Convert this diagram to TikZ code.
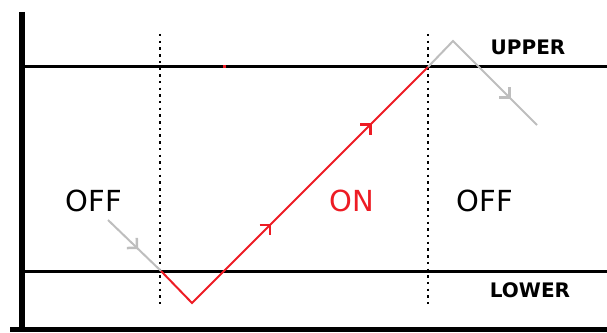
\documentclass[tikz,border=0pt]{standalone}
\usepackage{fontspec}
\setmainfont{DejaVu Sans}
\usepackage{tikz}
\usetikzlibrary{arrows.meta,decorations.markings}
\definecolor{onred}{RGB}{237,28,36}
\definecolor{offgray}{RGB}{190,190,190}

\begin{document}
\begin{tikzpicture}[x=1pt, y=1pt,
    level/.style={line width=3pt},
    axis/.style={line width=6pt},
    divider/.style={line width=2.5pt, dash pattern=on 2.5pt off 4.2pt},
    midtip/.style={postaction={decorate}, decoration={markings,
        mark=at position #1 with {\arrow[line width=2.5pt]{Straight Barb[angle=90:10pt]}}}},
    onpath/.style={onred, line width=2pt},
    offpath/.style={offgray, line width=2pt},
    tag/.style={font=\fontsize{20}{20}\selectfont\bfseries},
    state/.style={font=\fontsize{29}{29}\selectfont}]
    \useasboundingbox (0,0) rectangle (607,332);

    % axes
    \draw[axis] (21.5,320) -- (21.5,0);
    \draw[line width=5pt] (10,2.5) -- (607,2.5);

    % thresholds
    \coordinate (upl) at (24,265);
    \coordinate (upr) at (607,265);
    \coordinate (lol) at (24,61);
    \coordinate (lor) at (607,61);
    \draw[level] (upl) -- (upr);
    \draw[level] (lol) -- (lor);
    \fill[onred] (222.5,263.5) rectangle (225.5,266.5);

    % switching points
    \draw[divider] (160,298) -- (160,28);
    \draw[divider] (428,298) -- (428,28);

    \coordinate (offin) at (108,112);
    \coordinate (swon) at (161,61);
    \coordinate (dip) at (192,29);
    \coordinate (swoff) at (428,265);
    \coordinate (peak) at (453,291);
    \coordinate (offout) at (537,207);

    \draw[offpath, midtip=0.57] (offin) -- (swon);
    \draw[onpath, midtip=0.414, midtip=0.789] (swon) -- (dip) -- (swoff);
    \draw[offpath, midtip=0.76] (swoff) -- (peak) -- (offout);

    \node[tag] (upper) at (528,285) {UPPER};
    \node[tag] (lower) at (530,42) {LOWER};
    \node[state] (offa) at (94,131) {OFF};
    \node[state, text=onred] (on) at (352,131) {ON};
    \node[state] (offb) at (485,131) {OFF};
\end{tikzpicture}
\end{document}
